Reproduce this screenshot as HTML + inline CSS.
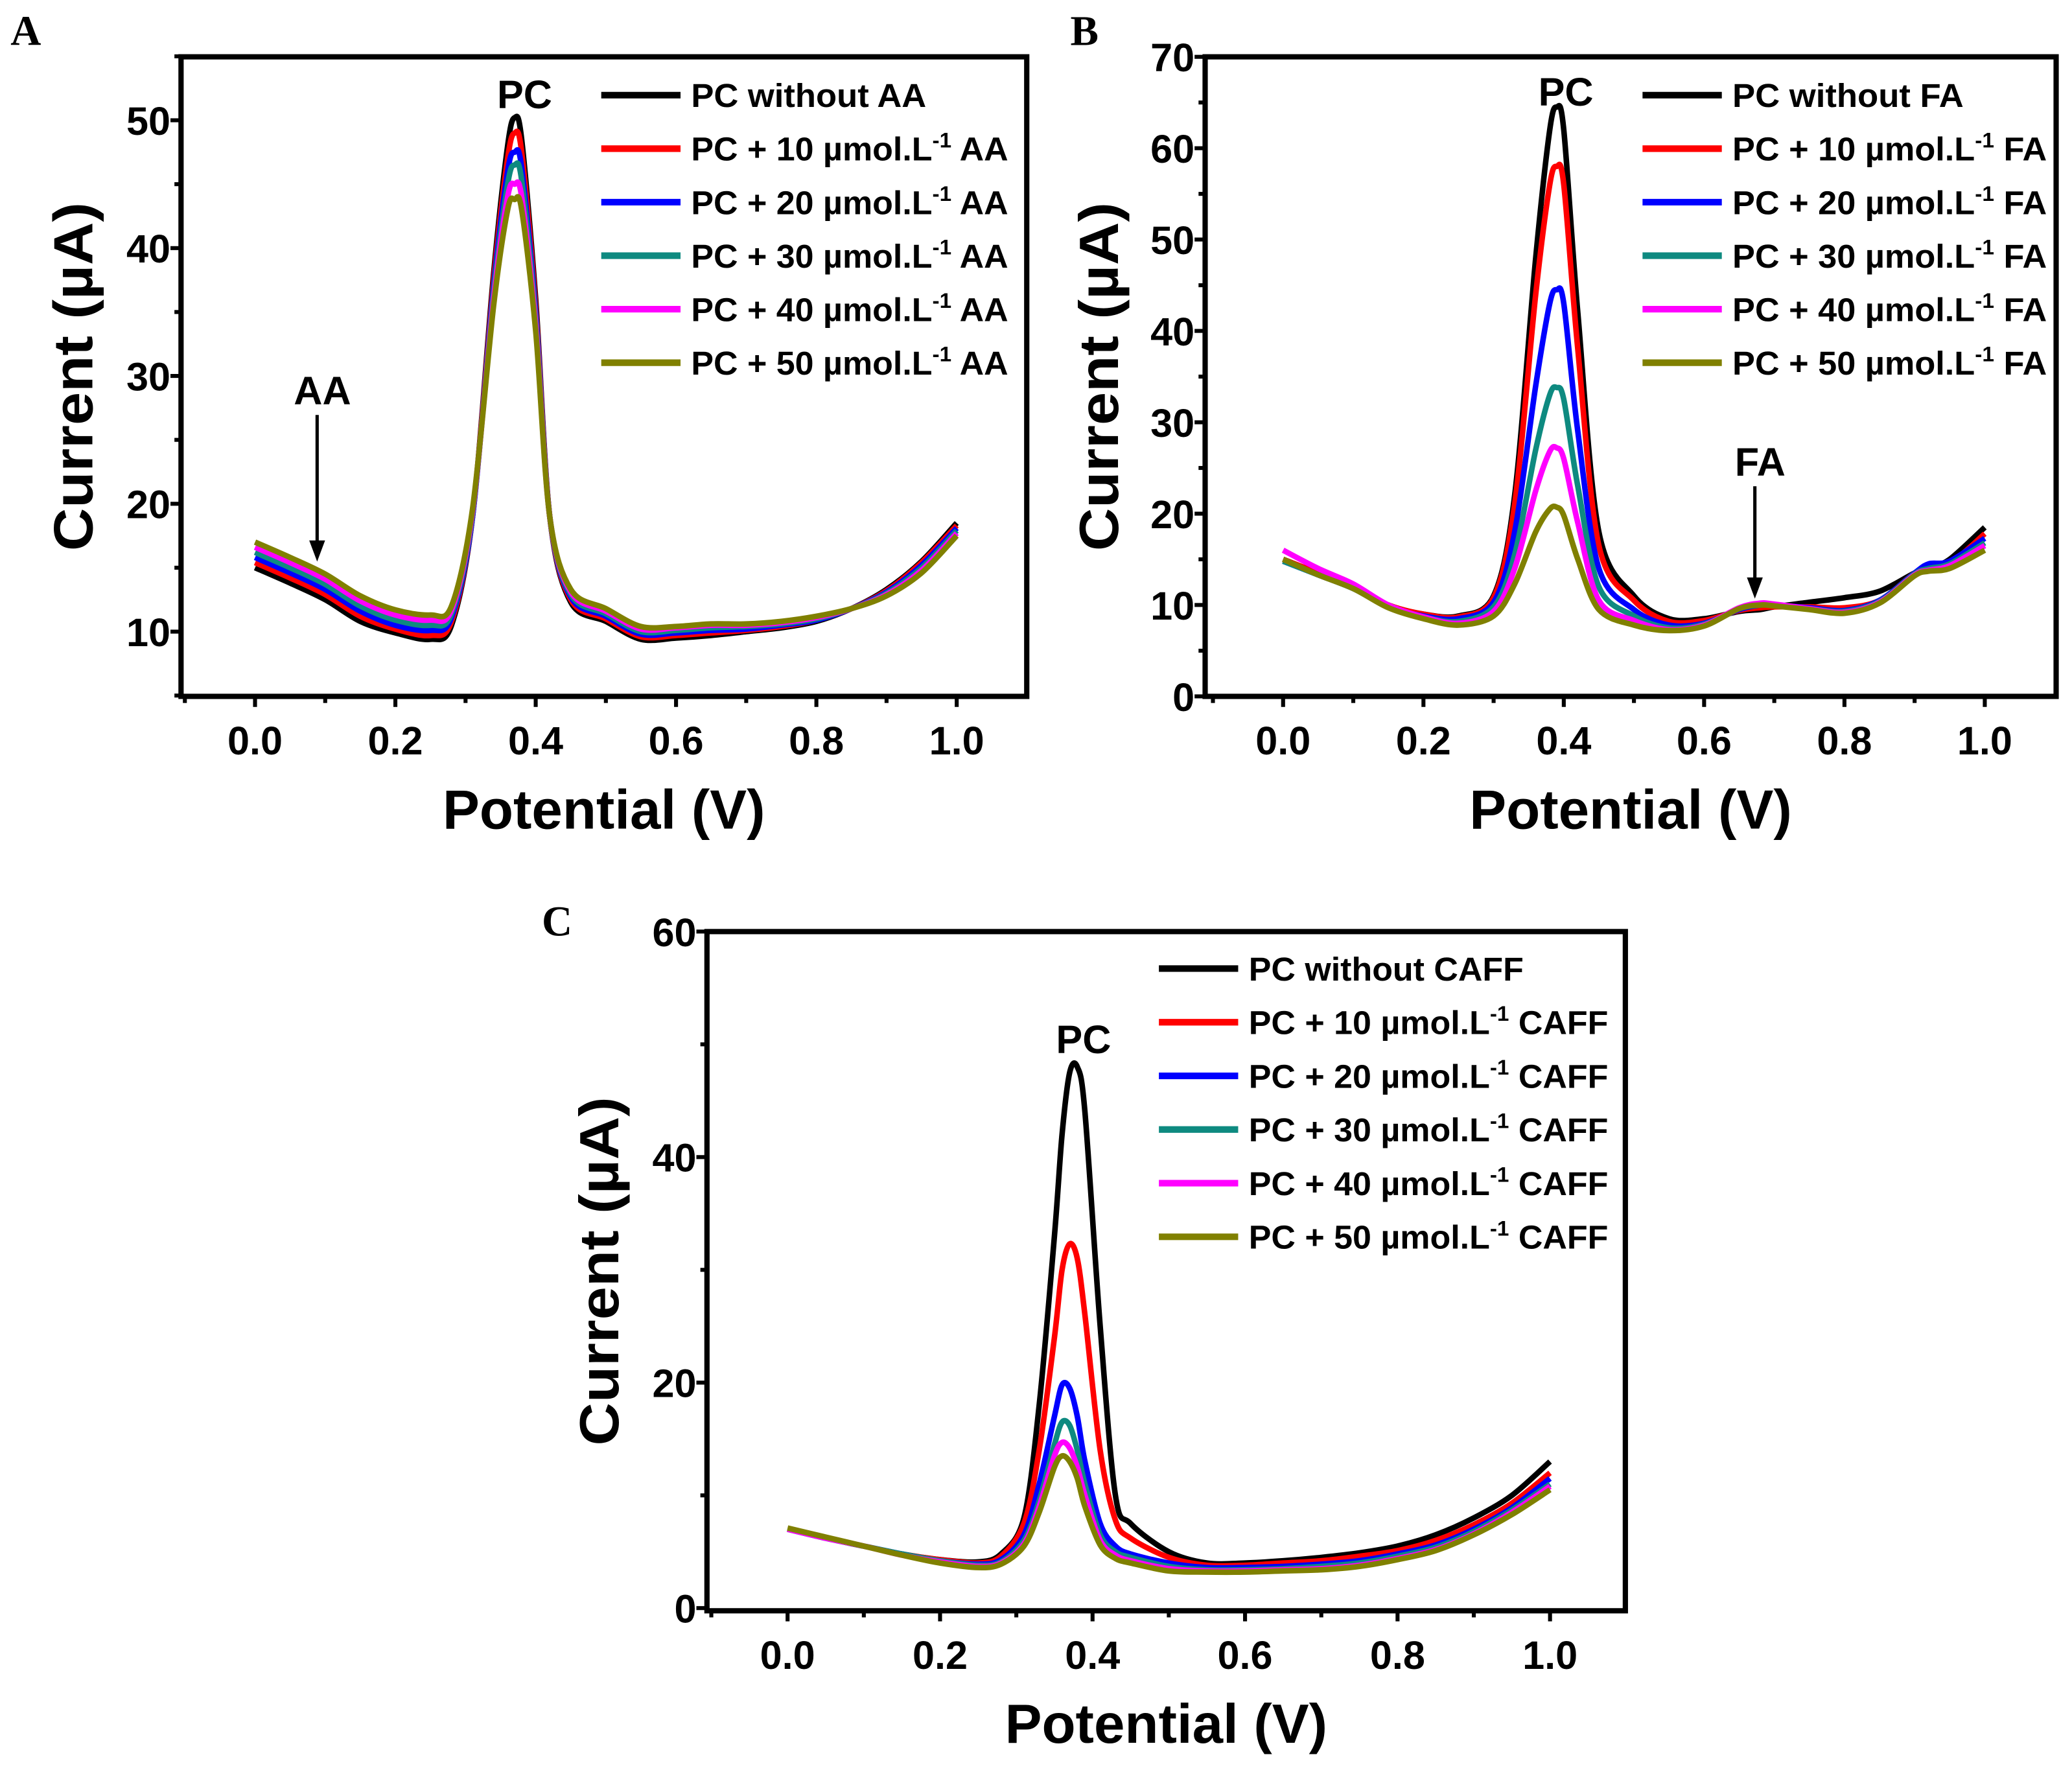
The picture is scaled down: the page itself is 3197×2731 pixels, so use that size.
<!DOCTYPE html>
<html><head><meta charset="utf-8">
<style>
html,body{margin:0;padding:0;background:#fff;}
svg{display:block;}
text{font-family:"Liberation Sans Narrow","Liberation Sans",sans-serif;font-weight:bold;fill:#000;}
.pl{font-family:"Liberation Serif",serif;}
</style></head>
<body>
<svg id="fig" width="3197" height="2731" viewBox="0 0 1568 1339.5" preserveAspectRatio="none" xmlns="http://www.w3.org/2000/svg"></svg>
<script>
// ---------- DATA ----------
const xA = [0,.05,.1,.15,.2,.25,.28,.31,.34,.36,.37,.38,.40,.42,.45,.5,.55,.6,.65,.7,.75,.8,.85,.9,.95,1.0];
const a0 = [15,13.8,12.5,10.8,9.9,9.4,10.5,19,38,48,50.2,48.5,36,19,12.3,10.8,9.4,9.5,9.7,10,10.3,10.8,11.8,13.3,15.5,18.5];
const a1 = [15.4,14.2,12.9,11.2,10.2,9.7,10.8,19,37.5,47,49,47.5,35.5,19,12.5,11,9.6,9.7,9.9,10.1,10.4,10.9,11.8,13.2,15.4,18.3];
const a2 = [15.8,14.6,13.3,11.6,10.5,10.1,11.1,19,37,46,47.5,46.3,35,19,12.7,11.2,9.8,9.9,10.1,10.2,10.5,10.9,11.8,13.1,15.2,18.1];
const a3 = [16.2,15,13.7,12,10.9,10.5,11.4,19.2,36.5,45,46.5,45.3,34.5,19,12.9,11.4,10,10.1,10.3,10.4,10.6,11,11.8,13,15,17.9];
const a4 = [16.6,15.4,14.1,12.4,11.3,10.9,11.7,19.4,36,44,45,44,34,19,13.1,11.6,10.2,10.3,10.5,10.5,10.7,11.1,11.8,12.9,14.8,17.7];
const a5 = [17,15.8,14.5,12.8,11.7,11.3,12,19.6,35.5,43,43.8,43,33.5,19,13.3,11.8,10.4,10.4,10.6,10.6,10.8,11.2,11.8,12.8,14.6,17.5];

const xB = [0,.05,.1,.15,.2,.25,.3,.33,.36,.38,.39,.40,.42,.45,.5,.55,.6,.65,.68,.7,.75,.8,.85,.9,.92,.95,1.0];
const b0 = [15,13.5,12,10,9,8.8,11,22,48,62,64.5,62,42,18,11,8.5,8.5,9.3,9.5,9.8,10.3,10.8,11.5,13.5,14,15,18.5];
const b1 = [15,13.5,12,10,9,8.7,10.8,21,44,56,58,56,38,16.5,10.5,8.2,8.3,9.4,9.7,9.8,9.8,9.7,10.5,13.5,14,14.5,17.8];
const b2 = [14.8,13.3,11.8,9.8,8.8,8.5,10.3,18,34,43,44.5,43,29,14,9.5,7.8,8,9.5,10,10,9.7,9.4,10.5,13.5,14.5,14.8,17.3];
const b3 = [14.8,13.3,11.8,9.8,8.7,8.2,9.8,15.5,27,33,33.8,32.5,23,12,8.8,7.5,7.9,9.6,10,10,9.6,9.3,10.4,13.4,14,14.5,16.8];
const b4 = [16,14,12.3,10,8.7,8,9.3,14,22.5,26.8,27.2,26,19,10.5,8.3,7.3,7.8,9.7,10.2,10.1,9.6,9.2,10.3,13.3,13.8,14.3,16.5];
const b5 = [15,13.3,11.8,9.7,8.5,7.8,8.8,12.3,18,20.5,20.7,19.8,15,9.5,7.8,7.2,7.7,9.6,10,9.9,9.5,9.1,10.2,13.2,13.7,14,16];

const xC = [0,.05,.1,.15,.2,.25,.28,.31,.33,.35,.36,.37,.38,.39,.41,.43,.45,.5,.55,.6,.65,.7,.75,.8,.85,.9,.95,1.0];
const c0 = [7,6.2,5.5,4.8,4.3,4.1,4.8,8,18,33,42,47.5,48,44,25,10,7.5,5,4,4,4.2,4.5,4.9,5.5,6.5,8,10,13];
const c1 = [7,6.2,5.5,4.8,4.3,4,4.6,7.5,14,24,30,32.3,31,26,14,7.8,6.2,4.5,3.8,3.8,4,4.2,4.6,5.1,6,7.4,9.3,12];
const c2 = [7,6.2,5.5,4.8,4.2,3.9,4.3,6.5,11,17,19.8,19.5,17,13,7.5,5.5,4.8,4,3.6,3.6,3.7,3.9,4.2,4.8,5.6,7,8.9,11.5];
const c3 = [7,6.2,5.5,4.8,4.2,3.8,4.1,6,9.5,14.5,16.5,16.2,14,11,6.5,5,4.5,3.7,3.4,3.4,3.5,3.7,4,4.6,5.4,6.8,8.7,11];
const c4 = [7,6.2,5.5,4.7,4.1,3.7,4,5.7,9,13.5,14.7,14.2,12.5,10,6,4.7,4.2,3.5,3.3,3.3,3.4,3.5,3.8,4.4,5.2,6.6,8.5,10.8];
const c5 = [7.1,6.3,5.5,4.7,4,3.6,3.9,5.5,8.5,12.5,13.5,13,11.5,9,5.6,4.4,4,3.3,3.2,3.2,3.3,3.4,3.7,4.3,5.1,6.5,8.3,10.5];

const xTickLabels = ["0.0","0.2","0.4","0.6","0.8","1.0"];
const yTicksA = [10,20,30,40,50];
const yTicksB = [0,10,20,30,40,50,60,70];
const yTicksC = [0,20,40,60];
const concs = ["10","20","30","40","50"];

// ---------- DRAW ----------
const NS = "http://www.w3.org/2000/svg";
const svg = document.getElementById("fig");
const colors = ["#000000","#ff0000","#0000ff","#0e8a80","#ff00ff","#808000"];
function mk(tag, parent){ const e=document.createElementNS(NS,tag); parent.appendChild(e); return e; }
function txt(parent,x,y,s,size,anchor){ const t=mk("text",parent); t.setAttribute("x",x); t.setAttribute("y",y); t.setAttribute("font-size",size); t.setAttribute("text-anchor",anchor||"start"); t.textContent=s; return t; }

function smoothPath(pts){
  let d="M"+pts[0][0].toFixed(2)+","+pts[0][1].toFixed(2);
  for(let i=0;i<pts.length-1;i++){
    const p0=pts[Math.max(i-1,0)],p1=pts[i],p2=pts[i+1],p3=pts[Math.min(i+2,pts.length-1)];
    const t=0.16;
    const c1=[p1[0]+(p2[0]-p0[0])*t,p1[1]+(p2[1]-p0[1])*t];
    const c2=[p2[0]-(p3[0]-p1[0])*t,p2[1]-(p3[1]-p1[1])*t];
    d+=" C"+c1[0].toFixed(2)+","+c1[1].toFixed(2)+" "+c2[0].toFixed(2)+","+c2[1].toFixed(2)+" "+p2[0].toFixed(2)+","+p2[1].toFixed(2);
  }
  return d;
}

function panel(cfg){
  const g=mk("g",svg);
  
  
  const sx=v=>cfg.x0px+(v)*(cfg.x1px-cfg.x0px);
  const sy=v=>cfg.ya_px+(v-cfg.ya)*(cfg.yb_px-cfg.ya_px)/(cfg.yb-cfg.ya);
  // series
  const sg=mk("g",g);
  
  
  const cp=mk("clipPath",g); cp.setAttribute("id","clip-"+cfg.name);
  const cr=mk("rect",cp); cr.setAttribute("x",cfg.L); cr.setAttribute("y",cfg.T); cr.setAttribute("width",cfg.R-cfg.L); cr.setAttribute("height",cfg.B-cfg.T);
  sg.setAttribute("clip-path","url(#clip-"+cfg.name+")");
  cfg.series.forEach((ys,i)=>{
    const p=mk("path",sg);
    
    
    p.setAttribute("d",smoothPath(ys.map((y,j)=>[sx(cfg.xs[j]),sy(y)])));
    p.setAttribute("fill","none"); p.setAttribute("stroke",colors[i]); p.setAttribute("stroke-width",4.2);
    p.setAttribute("stroke-linejoin","round");
  });
  // frame
  const fr=mk("rect",g);
  
  
  fr.setAttribute("x",cfg.L); fr.setAttribute("y",cfg.T); fr.setAttribute("width",cfg.R-cfg.L); fr.setAttribute("height",cfg.B-cfg.T);
  fr.setAttribute("fill","none"); fr.setAttribute("stroke","#000"); fr.setAttribute("stroke-width",4);
  // x ticks
  const xt=mk("g",g);
  
  
  for(let k=-1;k<=11;k++){
    const v=k/10, X=sx(v);
    if(X<cfg.L+2||X>cfg.R-2) continue;
    const l=mk("line",xt); l.setAttribute("x1",X); l.setAttribute("x2",X); l.setAttribute("y1",cfg.B); l.setAttribute("y2",cfg.B+(k%2===0?8:5));
    l.setAttribute("stroke","#000"); l.setAttribute("stroke-width",3);
  }
  xTickLabels.forEach((s,i)=>{
    const t=txt(xt,sx(i*0.2),cfg.B+44,s,30,"middle");
    
    
  });
  // y ticks
  const yt=mk("g",g);
  
  
  const step=cfg.yticks[1]-cfg.yticks[0];
  for(let v=cfg.yticks[0]-step;v<=cfg.yticks[cfg.yticks.length-1]+step;v+=step/2){
    const Y=sy(v); if(Y<cfg.T-1||Y>cfg.B+1) continue;
    const major=cfg.yticks.includes(v);
    const l=mk("line",yt); l.setAttribute("x1",cfg.L); l.setAttribute("x2",cfg.L-(major?8:5)); l.setAttribute("y1",Y); l.setAttribute("y2",Y);
    l.setAttribute("stroke","#000"); l.setAttribute("stroke-width",3);
  }
  cfg.yticks.forEach(v=>{
    const t=txt(yt,cfg.L-8,sy(v)+11,String(v),30,"end");
    
    
  });
  // axis titles
  const ytl=txt(g,0,0,"Current (µA)",42,"middle");
  
  
  ytl.setAttribute("transform","translate("+cfg.ytx+","+((cfg.T+cfg.B)/2)+") rotate(-90)");
  ytl.setAttribute("textLength",264); ytl.setAttribute("lengthAdjust","spacingAndGlyphs");
  const xtl=txt(g,(cfg.L+cfg.R)/2,cfg.B+100,"Potential (V)",42,"middle");
  
  
  xtl.setAttribute("textLength",244); xtl.setAttribute("lengthAdjust","spacingAndGlyphs");
  // panel letter
  const pl=txt(g,cfg.letterX,cfg.letterY,cfg.letter,32,"start"); pl.setAttribute("class","pl");
  
  
  // legend
  const lg=mk("g",g);
  
  
  for(let i=0;i<6;i++){
    const y=cfg.legY+i*cfg.legDy;
    const e=mk("g",lg);
    
    
    const l=mk("line",e); l.setAttribute("x1",cfg.legX); l.setAttribute("x2",cfg.legX+60); l.setAttribute("y1",y); l.setAttribute("y2",y);
    l.setAttribute("stroke",colors[i]); l.setAttribute("stroke-width",5);
    const t=mk("text",e); t.setAttribute("x",cfg.legX+68); t.setAttribute("y",y+9); t.setAttribute("font-size",25);
    if(i===0){ t.textContent="PC without "+cfg.ana; t.setAttribute("textLength",cfg.w0); }
    else{
      const a=mk("tspan",t); a.textContent="PC + "+concs[i-1]+" µmol.L";
      const b=mk("tspan",t); b.textContent="-1"; b.setAttribute("dy",-10); b.setAttribute("font-size",16);
      const c=mk("tspan",t); c.textContent=" "+cfg.ana; c.setAttribute("dy",10);
      t.setAttribute("textLength",cfg.w1);
    }
    t.setAttribute("lengthAdjust","spacingAndGlyphs");
  }
  // annotations
  cfg.ann.forEach(a=>{
    const t=txt(g,a.x,a.y,a.s,30,"middle");
    
    
    if(a.arrow){
      const l=mk("line",g); l.setAttribute("x1",a.ax); l.setAttribute("x2",a.ax); l.setAttribute("y1",a.y1); l.setAttribute("y2",a.y2-14);
      l.setAttribute("stroke","#000"); l.setAttribute("stroke-width",2.5);
      
      
      const h=mk("polygon",g); h.setAttribute("points",(a.ax-6)+","+(a.y2-16)+" "+(a.ax+6)+","+(a.y2-16)+" "+a.ax+","+a.y2);
      
      
    }
  });
}

panel({name:"panel-a",L:137,R:777,T:43,B:527,x0px:193,x1px:724,ya:10,ya_px:478,yb:50,yb_px:91,
  xs:xA,series:[a0,a1,a2,a3,a4,a5],yticks:yTicksA,ytx:70,letter:"A",letterX:8,letterY:34,
  legX:455,legY:72,legDy:40.5,ana:"AA",w0:178,w1:240,
  ann:[{x:397,y:82,s:"PC"},{x:244,y:306,s:"AA",arrow:true,ax:240,y1:314,y2:425}]});
panel({name:"panel-b",L:912,R:1556,T:43,B:527,x0px:971,x1px:1502,ya:0,ya_px:527,yb:70,yb_px:43,
  xs:xB,series:[b0,b1,b2,b3,b4,b5],yticks:yTicksB,ytx:846,letter:"B",letterX:810,letterY:34,
  legX:1243,legY:72,legDy:40.5,ana:"FA",w0:175,w1:238,
  ann:[{x:1185,y:80,s:"PC"},{x:1332,y:360,s:"FA",arrow:true,ax:1328,y1:368,y2:453}]});
panel({name:"panel-c",L:535,R:1230,T:705,B:1219,x0px:596,x1px:1173,ya:0,ya_px:1217,yb:60,yb_px:705,
  xs:xC,series:[c0,c1,c2,c3,c4,c5],yticks:yTicksC,ytx:468,letter:"C",letterX:410,letterY:708,
  legX:877,legY:733,legDy:40.6,ana:"CAFF",w0:208,w1:272,
  ann:[{x:820,y:797,s:"PC"}]});
</script>
</body></html>
